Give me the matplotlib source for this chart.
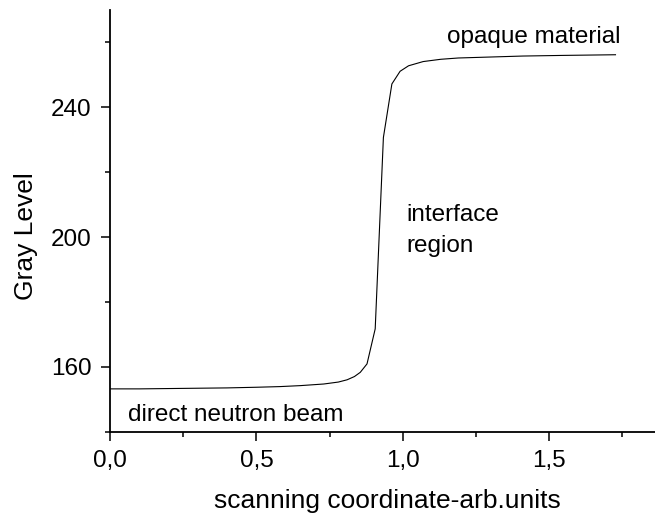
import matplotlib.pyplot as plt
from matplotlib.ticker import MultipleLocator, FuncFormatter

plt.rcParams['font.family'] = ['Liberation Sans', 'DejaVu Sans']

# profile across the interface
x = [0.0, 0.1, 0.2, 0.3, 0.4, 0.5, 0.58, 0.65, 0.73, 0.78, 0.81, 0.835, 0.855,
     0.878, 0.906, 0.934, 0.963, 0.991, 1.02, 1.07, 1.13, 1.19, 1.3, 1.41, 1.55, 1.727]
gray = [153.2, 153.2, 153.3, 153.4, 153.5, 153.7, 153.9, 154.2, 154.7, 155.3, 156.0,
        157.0, 158.3, 160.9, 171.7, 230.7, 247.2, 251.1, 252.8, 254.1, 254.8, 255.2,
        255.5, 255.8, 256.0, 256.2]

fig = plt.figure(figsize=(6.55, 5.17), dpi=100)
ax = fig.add_axes([0.168, 0.165, 0.832, 0.8157])

ax.plot(x, gray, color='black', lw=0.8)

ax.set_xlim(0, 1.862)
ax.set_ylim(140, 270)

ax.spines['top'].set_visible(False)
ax.spines['right'].set_visible(False)
ax.spines['left'].set_linewidth(1.3)
ax.spines['bottom'].set_linewidth(1.3)

ax.xaxis.set_major_locator(MultipleLocator(0.5))
ax.xaxis.set_minor_locator(MultipleLocator(0.25))
ax.yaxis.set_major_locator(MultipleLocator(40))
ax.yaxis.set_minor_locator(MultipleLocator(20))
ax.xaxis.set_major_formatter(FuncFormatter(lambda v, p: f"{v:.1f}".replace('.', ',')))
ax.tick_params(which='major', length=6.5, width=1.1, labelsize=17.5, pad=7)
ax.tick_params(which='minor', length=3.8, width=1.1)

ax.set_xlabel("scanning coordinate-arb.units", fontsize=19, va='baseline')
ax.xaxis.set_label_coords(0.508, -0.181)
ax.set_ylabel("Gray Level", fontsize=19, va='center')
ax.yaxis.set_label_coords(-0.154, 0.463)

ax.text(1.151, 259.7, "opaque material", fontsize=17.5)
ax.text(1.014, 205.1, "interface", fontsize=17.5)
ax.text(1.014, 195.3, "region", fontsize=17.5)
ax.text(0.063, 143.4, "direct neutron beam", fontsize=17.5)

fig.savefig("out.png", dpi=100)
